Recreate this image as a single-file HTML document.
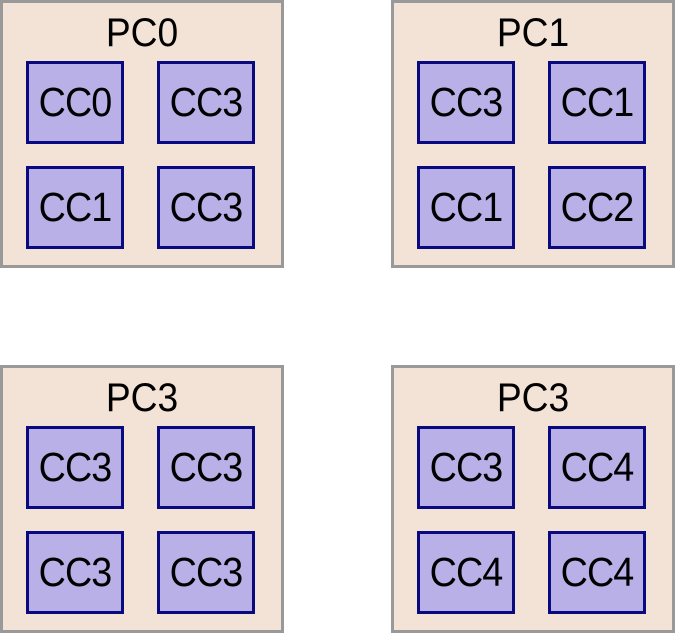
<!DOCTYPE html>
<html><head><style>
body{margin:0;width:675px;height:633px;background:#fff;position:relative;overflow:hidden;font-family:"Liberation Sans",sans-serif}
.pc{position:absolute;width:278px;height:262px;background:#f3e3d6;border:3px solid #999}
.pc .t{position:absolute;left:0;width:100%;top:9px;text-align:center;font-size:40px;line-height:42px;color:#000;transform:scaleX(0.93)}
.cc{position:absolute;width:92px;height:77px;background:#b8b0e6;border:3px solid #0a0a80;text-align:center;color:#000}
.cc span{display:block;font-size:41px;line-height:77px;letter-spacing:-1px;transform:scaleX(0.92)}
</style></head><body>
<div class="pc" style="left:0;top:0"><div class="t">PC0</div>
<div class="cc" style="left:23px;top:58px"><span>CC0</span></div><div class="cc" style="left:154px;top:58px"><span>CC3</span></div>
<div class="cc" style="left:23px;top:163px"><span>CC1</span></div><div class="cc" style="left:154px;top:163px"><span>CC3</span></div></div>
<div class="pc" style="left:391px;top:0"><div class="t">PC1</div>
<div class="cc" style="left:23px;top:58px"><span>CC3</span></div><div class="cc" style="left:154px;top:58px"><span>CC1</span></div>
<div class="cc" style="left:23px;top:163px"><span>CC1</span></div><div class="cc" style="left:154px;top:163px"><span>CC2</span></div></div>
<div class="pc" style="left:0;top:365px"><div class="t">PC3</div>
<div class="cc" style="left:23px;top:58px"><span>CC3</span></div><div class="cc" style="left:154px;top:58px"><span>CC3</span></div>
<div class="cc" style="left:23px;top:163px"><span>CC3</span></div><div class="cc" style="left:154px;top:163px"><span>CC3</span></div></div>
<div class="pc" style="left:391px;top:365px"><div class="t">PC3</div>
<div class="cc" style="left:23px;top:58px"><span>CC3</span></div><div class="cc" style="left:154px;top:58px"><span>CC4</span></div>
<div class="cc" style="left:23px;top:163px"><span>CC4</span></div><div class="cc" style="left:154px;top:163px"><span>CC4</span></div></div>
</body></html>
